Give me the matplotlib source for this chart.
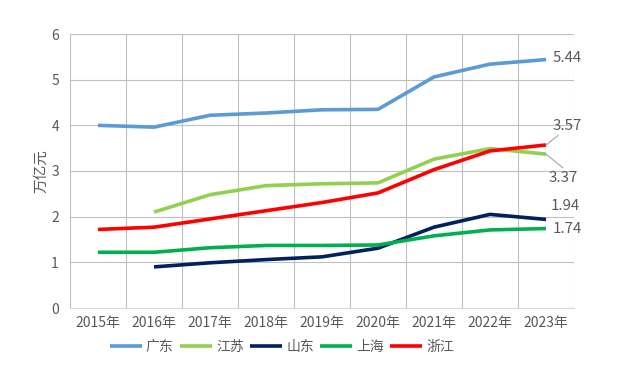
import matplotlib.pyplot as plt
import numpy as np

plt.rcParams['font.family'] = ['Noto Sans CJK SC', 'DejaVu Sans']

years = ['2015年', '2016年', '2017年', '2018年', '2019年', '2020年', '2021年', '2022年', '2023年']
guangdong = [4.00, 3.96, 4.22, 4.27, 4.34, 4.35, 5.06, 5.34, 5.44]
jiangsu = [np.nan, 2.10, 2.48, 2.68, 2.72, 2.74, 3.26, 3.49, 3.37]
shandong = [np.nan, 0.90, 0.99, 1.06, 1.12, 1.31, 1.77, 2.05, 1.94]
shanghai = [1.22, 1.22, 1.32, 1.37, 1.37, 1.38, 1.58, 1.71, 1.74]
zhejiang = [1.72, 1.77, 1.95, 2.13, 2.31, 2.52, 3.03, 3.44, 3.57]

names = ['广东', '江苏', '山东', '上海', '浙江']
colors = ['#5B9BD5', '#92D050', '#002060', '#00B050', '#FF0000']
series = [guangdong, jiangsu, shandong, shanghai, zhejiang]

txt = '#595959'
fig = plt.figure(figsize=(6.44, 3.84), dpi=100)
ax = fig.add_axes([70/644, 1-308/384, 504/644, 274/384])

x = np.arange(len(years))
for vals, name, c in zip(series, names, colors):
    ax.plot(x, vals, color=c, lw=2.6, label=name, solid_capstyle='butt')

ax.set_xlim(-0.5, len(years)-0.5)
ax.set_ylim(0, 6)
ax.set_yticks(range(7))
ax.set_xticks(x)
ax.set_xticklabels(years)
ax.set_xticks(np.arange(-0.5, len(years)), minor=True)
ax.grid(True, which='minor', axis='x', color='#bfbfbf', lw=0.8)
ax.grid(True, which='major', axis='y', color='#bfbfbf', lw=0.8)
ax.set_axisbelow(True)
for s in ax.spines.values():
    s.set_visible(False)
ax.spines['bottom'].set_visible(True)
ax.spines['bottom'].set_color('#d9d9d9')
ax.tick_params(which='both', length=0, colors=txt, labelsize=10)
ax.tick_params(axis='y', pad=8)
ax.tick_params(axis='x', pad=6)
ax.set_ylabel('万亿元', color=txt, fontsize=10.5, labelpad=2)

last = len(years) - 1
lbl = 10.8
ax.annotate(f'{guangdong[-1]:.2f}', (last, guangdong[-1]), xytext=(5, 1),
            textcoords='offset points', va='center', ha='left', color=txt, fontsize=lbl)
ax.annotate(f'{zhejiang[-1]:.2f}', (last, zhejiang[-1]), xytext=(5, 14),
            textcoords='offset points', va='center', ha='left', color=txt, fontsize=lbl,
            arrowprops=dict(arrowstyle='-', color='#a6a6a6', lw=0.8, shrinkA=0, shrinkB=0,
                            relpos=(0.3, 0)))
ax.annotate(f'{jiangsu[-1]:.2f}', (last, jiangsu[-1]), xytext=(2, -17),
            textcoords='offset points', va='center', ha='left', color=txt, fontsize=lbl,
            arrowprops=dict(arrowstyle='-', color='#a6a6a6', lw=0.8, shrinkA=0, shrinkB=0,
                            relpos=(0.6, 1)))
ax.annotate(f'{shandong[-1]:.2f}', (last, shandong[-1]), xytext=(3, 10),
            textcoords='offset points', va='center', ha='left', color=txt, fontsize=lbl)
ax.annotate(f'{shanghai[-1]:.2f}', (last, shanghai[-1]), xytext=(5, 0),
            textcoords='offset points', va='center', ha='left', color=txt, fontsize=lbl)

leg = fig.legend(loc='center', bbox_to_anchor=(282/644, 1-347/384), ncol=5, frameon=False,
                 fontsize=10, handlelength=2.3, handletextpad=0.3, columnspacing=0.45)
for t in leg.get_texts():
    t.set_color(txt)

fig.savefig('out.png', dpi=100)
